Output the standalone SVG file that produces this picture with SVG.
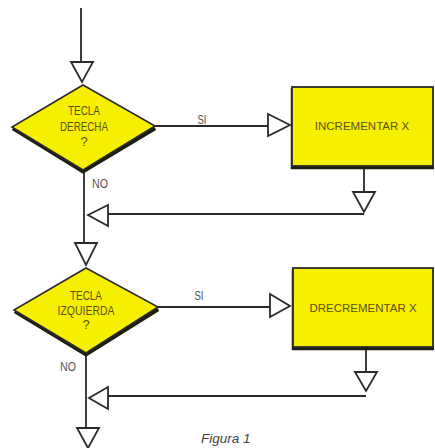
<svg xmlns="http://www.w3.org/2000/svg" width="435" height="448" viewBox="0 0 435 448">
<style>
.ln{fill:none;stroke:#2a2a2a;stroke-width:1.8}
.ah{fill:#fff;stroke:#2a2a2a;stroke-width:1.8;stroke-linejoin:miter}
.dia{fill:#f7ef00;stroke:#2a2a2a;stroke-width:1.6;stroke-linejoin:miter}
.sh{fill:none;stroke:#1e1e10;stroke-width:4.5;stroke-linejoin:miter}
.box{fill:#f7ef00;stroke:#2a2a2a;stroke-width:1.8}
.t{font-family:"Liberation Sans",Arial,sans-serif;font-size:13px;fill:#5e5212;text-anchor:middle}
.bt{font-family:"Liberation Sans",Arial,sans-serif;font-size:11.5px;fill:#5e5212;text-anchor:middle}
.lab{font-family:"Liberation Sans",Arial,sans-serif;font-size:12px;fill:#555;text-anchor:middle}
.fig{font-family:"Liberation Sans",Arial,sans-serif;font-size:13.5px;font-style:italic;fill:#444}
</style>
<rect width="435" height="448" fill="#fff"/>
<g id="connectors">
<path class="ln" d="M81,8 V62"/>
<path class="ah" d="M71,62 H93 L82,82 Z"/>
<path class="ln" d="M155,126 H268"/>
<path class="ah" d="M268,114 L290,125 L268,136 Z"/>
<text class="lab" x="202" y="124" textLength="9" lengthAdjust="spacingAndGlyphs">SI</text>
<path class="ln" d="M364,168 V192"/>
<path class="ah" d="M353,192 H375 L364,212 Z"/>
<path class="ln" d="M364,214 H108"/>
<path class="ah" d="M108,205 L88,215 L108,226 Z"/>
<path class="ln" d="M84,172 V243"/>
<text class="lab" x="100" y="188" textLength="16" lengthAdjust="spacingAndGlyphs">NO</text>
<path class="ah" d="M75,243 H97 L86,265 Z"/>
<path class="ln" d="M158,307 H270"/>
<path class="ah" d="M270,294 L290,306 L270,317 Z"/>
<text class="lab" x="199" y="300" textLength="9" lengthAdjust="spacingAndGlyphs">SI</text>
<path class="ln" d="M366,349 V372"/>
<path class="ah" d="M355,372 H377 L366,391 Z"/>
<path class="ln" d="M366,396 H108"/>
<path class="ah" d="M108,387 L89,398 L108,409 Z"/>
<path class="ln" d="M86,353 V428"/>
<text class="lab" x="68" y="371" textLength="16" lengthAdjust="spacingAndGlyphs">NO</text>
<path class="ah" d="M77,428 H99 L88,448 Z"/>
</g>
<g id="d1">
<path class="sh" d="M13,128 L83,171 L155,128"/>
<path class="dia" d="M83,85 L155,126 L83,170 L12,127 Z"/>
<text class="t" x="84" y="115" textLength="32" lengthAdjust="spacingAndGlyphs">TECLA</text>
<text class="t" x="84" y="131" textLength="48" lengthAdjust="spacingAndGlyphs">DERECHA</text>
<text class="t" x="84" y="146">?</text>
</g>
<g id="b1">
<path class="sh" d="M293,88 V167 H434"/>
<rect class="box" x="292" y="87" width="141" height="79"/>
<text class="bt" x="362" y="130">INCREMENTAR X</text>
</g>
<g id="d2">
<path class="sh" d="M15,311 L86,354 L158,309"/>
<path class="dia" d="M86,268 L158,307 L86,353 L14,310 Z"/>
<text class="t" x="86" y="300" textLength="32" lengthAdjust="spacingAndGlyphs">TECLA</text>
<text class="t" x="86" y="315" textLength="57" lengthAdjust="spacingAndGlyphs">IZQUIERDA</text>
<text class="t" x="86" y="329">?</text>
</g>
<g id="b2">
<path class="sh" d="M294,269 V348 H434"/>
<rect class="box" x="293" y="268" width="140" height="79"/>
<text class="bt" x="363" y="312">DRECREMENTAR X</text>
</g>
<text class="fig" x="201" y="443">Figura 1</text>
</svg>
